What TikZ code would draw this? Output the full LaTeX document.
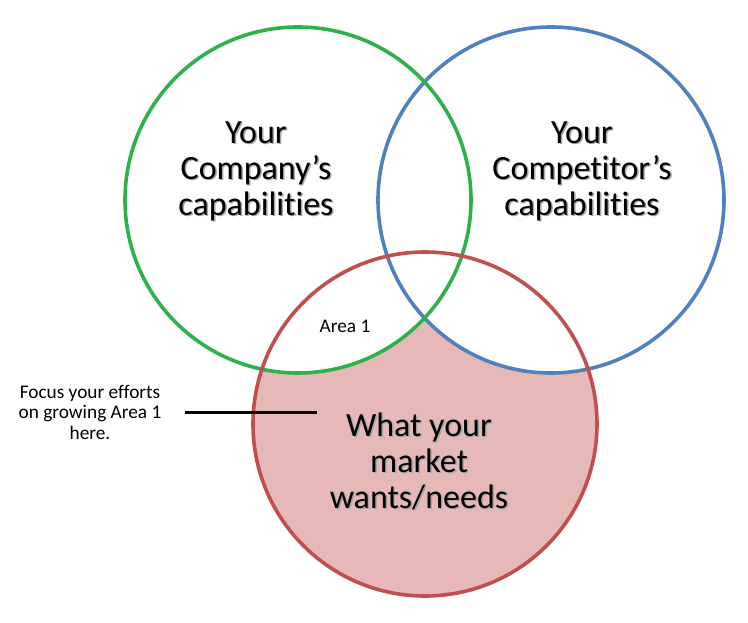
\documentclass[tikz,border=0pt]{standalone}
\usepackage{fontspec}
\setmainfont{Carlito}[Ligatures=NoCommon]
\definecolor{cgreen}{HTML}{2DB24B}
\definecolor{cblue}{HTML}{4F81BD}
\definecolor{cred}{HTML}{C0504D}
\definecolor{cpink}{HTML}{E6B8B7}
\tikzset{
  ring/.style={line width=3.6pt},
  bigtext/.style={align=center, font=\fontsize{34}{36}\selectfont, inner sep=0pt},
  shadowtext/.style={bigtext, text=black!35},
  smalltext/.style={align=center, font=\fontsize{19.3}{20.5}\selectfont, inner sep=0pt}
}
\begin{document}
\begin{tikzpicture}[x=1pt,y=-1pt]
\useasboundingbox (0,0) rectangle (748,623);
% fills
\fill[cpink] (425,424) circle[radius=172];
\fill[white] (298,200) circle[radius=173];
\fill[white] (551,200) circle[radius=173];
% outlines
\draw[ring, cblue] (551,200) circle[radius=173];
\draw[ring, cgreen] (298,200) circle[radius=173];
\draw[ring, cred] (425,424) circle[radius=172];
% big labels with shadow
\node[shadowtext] at (257.5,172.5) {Your\\Company’s\\capabilities};
\node[bigtext] (comp) at (256,171) {Your\\Company’s\\capabilities};
\node[shadowtext] at (583.5,172.5) {Your\\Competitor’s\\capabilities};
\node[bigtext] (rival) at (582,171) {Your\\Competitor’s\\capabilities};
\node[shadowtext] at (420.5,462.5) {What your\\market\\wants/needs};
\node[bigtext] (market) at (419,461) {What your\\market\\wants/needs};
% small labels
\node[smalltext] (area) at (345,326) {Area 1};
\node[smalltext] (note) at (90,412) {Focus your efforts\\on growing Area 1\\here.};
\coordinate (lineA) at (185,412.5);
\coordinate (lineB) at (317,412.5);
\draw[line width=2.6pt] (lineA) -- (lineB);
\end{tikzpicture}
\end{document}
